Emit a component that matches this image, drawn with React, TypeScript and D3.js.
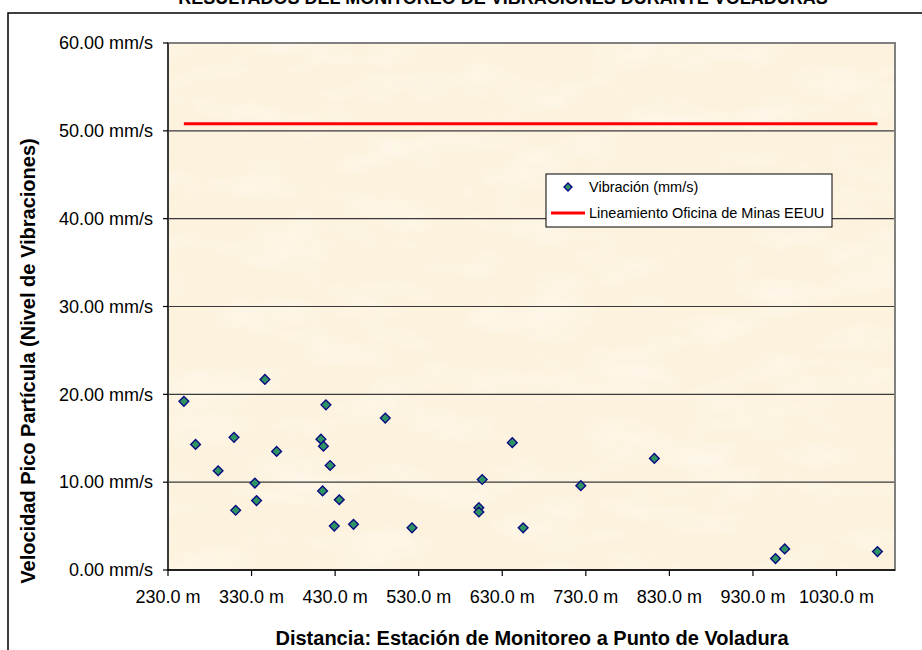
import React from "react";
import * as d3 from "d3";

// Monitoring results: distance from blast point (m) and peak particle velocity (mm/s)
const distances: number[] = [
  249, 346, 419, 490, 263, 309, 360, 413, 416, 424, 290, 334, 415, 435, 336,
  311, 429, 452, 522, 642, 812, 606, 724, 602, 602, 655, 968, 957, 1079,
];
const velocities: number[] = [
  19.2, 21.7, 18.8, 17.3, 14.3, 15.1, 13.5, 14.9, 14.1, 11.9, 11.3, 9.9, 9.0,
  8.0, 7.9, 6.8, 5.0, 5.2, 4.8, 14.5, 12.7, 10.3, 9.6, 7.1, 6.6, 4.8, 2.4,
  1.3, 2.1,
];

// US Bureau of Mines guideline (2 in/s)
const guidelineValue = 50.8;

const xTicks: number[] = [230, 330, 430, 530, 630, 730, 830, 930, 1030];
const yTicks: number[] = [0, 10, 20, 30, 40, 50, 60];
const xDomain: [number, number] = [230, 1100];
const yDomain: [number, number] = [0, 60];

const title = "RESULTADOS DEL MONITOREO DE VIBRACIONES DURANTE VOLADURAS";
const xTitle = "Distancia: Estación de Monitoreo a Punto de Voladura";
const yTitle = "Velocidad Pico Partícula (Nivel de Vibraciones)";
const seriesNames: string[] = ["Vibración (mm/s)", "Lineamiento Oficina de Minas EEUU"];

const W = 922;
const H = 650;
const plot = { left: 168, top: 43, right: 895, bottom: 570 };
const FONT = "Arial, 'Liberation Sans', Helvetica, sans-serif";

const x = d3.scaleLinear().domain(xDomain).range([plot.left, plot.right]);
const y = d3.scaleLinear().domain(yDomain).range([plot.bottom, plot.top]);

const diamond = d3.symbol().type(d3.symbolDiamond2).size(60);
const diamondPath = diamond() as string;

const fmtY = (v: number) => `${d3.format(".2f")(v)} mm/s`;
const fmtX = (v: number) => `${d3.format(".1f")(v)} m`;

const markerFill = "#2f9463";
const markerStroke = "#0a0a80";

export default function App() {
  const xMin = d3.min(distances) as number;
  const xMax = d3.max(distances) as number;
  const points = distances.map((d, i) => ({ d, v: velocities[i] }));

  return (
    <div style={{ position: "absolute", left: 0, top: 0 }}>
      <svg width={W} height={H} style={{ display: "block" }} fontFamily={FONT}>
        <defs>
          {/* light mottling for the parchment plot background */}
          <filter id="parchment" x="0" y="0" width="100%" height="100%" colorInterpolationFilters="sRGB">
            <feTurbulence type="fractalNoise" baseFrequency="0.012 0.03" numOctaves={3} seed={11} result="noise" />
            <feColorMatrix
              in="noise"
              type="matrix"
              values="0 0 0 0 1
                      0 0 0 0 0.985
                      0 0 0 0 0.95
                      2.2 0 0 0 -0.95"
            />
          </filter>
        </defs>

        <rect x={0} y={0} width={W} height={H} fill="#ffffff" />

        {/* chart title */}
        <text x={503} y={4} textAnchor="middle" fontSize={18} fontWeight="bold" fill="#000">
          {title}
        </text>

        {/* chart frame */}
        <rect x={8} y={13} width={930} height={660} fill="none" stroke="#000" strokeWidth={1.5} />

        {/* plot area */}
        <rect
          x={plot.left}
          y={plot.top}
          width={plot.right - plot.left}
          height={plot.bottom - plot.top}
          fill="#fcf2dd"
        />
        <rect
          x={plot.left}
          y={plot.top}
          width={plot.right - plot.left}
          height={plot.bottom - plot.top}
          fill="#fff"
          filter="url(#parchment)"
          opacity={0.6}
        />

        {/* horizontal gridlines */}
        {yTicks
          .filter((t) => t > yDomain[0] && t < yDomain[1])
          .map((t) => (
            <line
              key={`g${t}`}
              x1={plot.left}
              x2={plot.right}
              y1={y(t)}
              y2={y(t)}
              stroke="#3a3a3a"
              strokeWidth={1.2}
            />
          ))}

        {/* plot border */}
        <rect
          x={plot.left}
          y={plot.top}
          width={plot.right - plot.left}
          height={plot.bottom - plot.top}
          fill="none"
          stroke="#808080"
          strokeWidth={2}
        />

        {/* axes lines */}
        <line x1={plot.left} x2={plot.left} y1={plot.top} y2={plot.bottom} stroke="#222" strokeWidth={1.5} />
        <line x1={plot.left} x2={plot.right} y1={plot.bottom} y2={plot.bottom} stroke="#000" strokeWidth={1.5} />

        {/* y ticks and labels */}
        {yTicks.map((t) => (
          <g key={`y${t}`}>
            <line x1={plot.left - 5} x2={plot.left} y1={y(t)} y2={y(t)} stroke="#000" strokeWidth={1.2} />
            <text x={153} y={y(t)} dy="0.35em" textAnchor="end" fontSize={18} fill="#000">
              {fmtY(t)}
            </text>
          </g>
        ))}

        {/* x ticks and labels */}
        {xTicks.map((t) => (
          <g key={`x${t}`}>
            <line x1={x(t)} x2={x(t)} y1={plot.bottom} y2={plot.bottom + 6} stroke="#000" strokeWidth={1.2} />
            <text x={x(t)} y={603} textAnchor="middle" fontSize={18} fill="#000">
              {fmtX(t)}
            </text>
          </g>
        ))}

        {/* guideline series */}
        <line
          x1={x(xMin)}
          x2={x(xMax)}
          y1={y(guidelineValue)}
          y2={y(guidelineValue)}
          stroke="#ff0000"
          strokeWidth={3}
        />

        {/* vibration measurements */}
        {points.map((p, i) => (
          <path
            key={`p${i}`}
            d={diamondPath}
            transform={`translate(${x(p.d)},${y(p.v)})`}
            fill={markerFill}
            stroke={markerStroke}
            strokeWidth={1.4}
          />
        ))}

        {/* axis titles */}
        <text x={532} y={645} textAnchor="middle" fontSize={20} fontWeight="bold" fill="#000">
          {xTitle}
        </text>
        <text
          transform={`translate(35,361) rotate(-90)`}
          textAnchor="middle"
          fontSize={20}
          fontWeight="bold"
          fill="#000"
        >
          {yTitle}
        </text>

        {/* legend */}
        <g>
          <rect x={546} y={174} width={286} height={53} fill="#fff" stroke="#000" strokeWidth={1} />
          <path
            d={d3.symbol().type(d3.symbolDiamond2).size(40)() as string}
            transform="translate(568,187)"
            fill={markerFill}
            stroke={markerStroke}
            strokeWidth={1.4}
          />
          <text x={589} y={187} dy="0.35em" fontSize={14.5} fill="#000">
            {seriesNames[0]}
          </text>
          <line x1={551} x2={585} y1={213} y2={213} stroke="#ff0000" strokeWidth={3} />
          <text x={589} y={213} dy="0.35em" fontSize={14.5} fill="#000">
            {seriesNames[1]}
          </text>
        </g>
      </svg>
    </div>
  );
}
